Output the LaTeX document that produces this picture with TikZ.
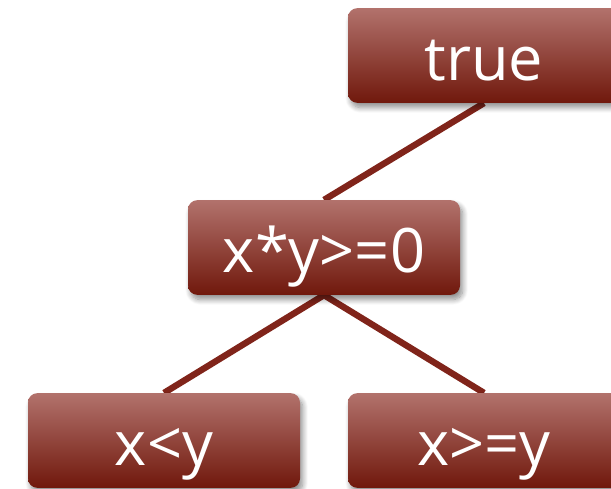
\documentclass[tikz,border=0pt]{standalone}
\usepackage{fontspec}
\setmainfont{Open Sans}
\usetikzlibrary{shadows.blur,backgrounds}

\definecolor{boxtop}{RGB}{178,114,108}
\definecolor{boxbot}{RGB}{112,24,12}
\definecolor{edgered}{RGB}{128,36,26}

\tikzset{
  condbox/.style={rounded corners=7pt, minimum width=204pt, minimum height=71pt,
    top color=boxtop, bottom color=boxbot, text=white, inner sep=0pt,
    text height=40pt, text depth=3.2pt,
    font=\fontsize{46}{50}\selectfont,
    blur shadow={shadow xshift=2pt, shadow yshift=-3.5pt, shadow blur radius=4pt,
      shadow blur steps=10, shadow opacity=45}},
  treeedge/.style={draw=edgered, line width=4.8pt}
}

\begin{document}
\begin{tikzpicture}[x=0.75pt,y=-0.75pt]
    % Рамка
    \useasboundingbox (0,0) rectangle (611,489);
    \clip (0,0) rectangle (611,489);

    % Вузли
    \node[condbox] (top) at (484,55.5) {true};
    \node[condbox] (mid) at (324,247.5) {x*y>=0};
    \node[condbox] (lt) at (164,440.5) {x<y};
    \node[condbox] (ge) at (484,440.5) {x>=y};

    % Ребра
    \begin{scope}[on background layer]
        \draw[treeedge] (top.south) -- (mid.north);
        \draw[treeedge] (mid.south) -- (lt.north);
        \draw[treeedge] (mid.south) -- (ge.north);
    \end{scope}
\end{tikzpicture}
\end{document}
